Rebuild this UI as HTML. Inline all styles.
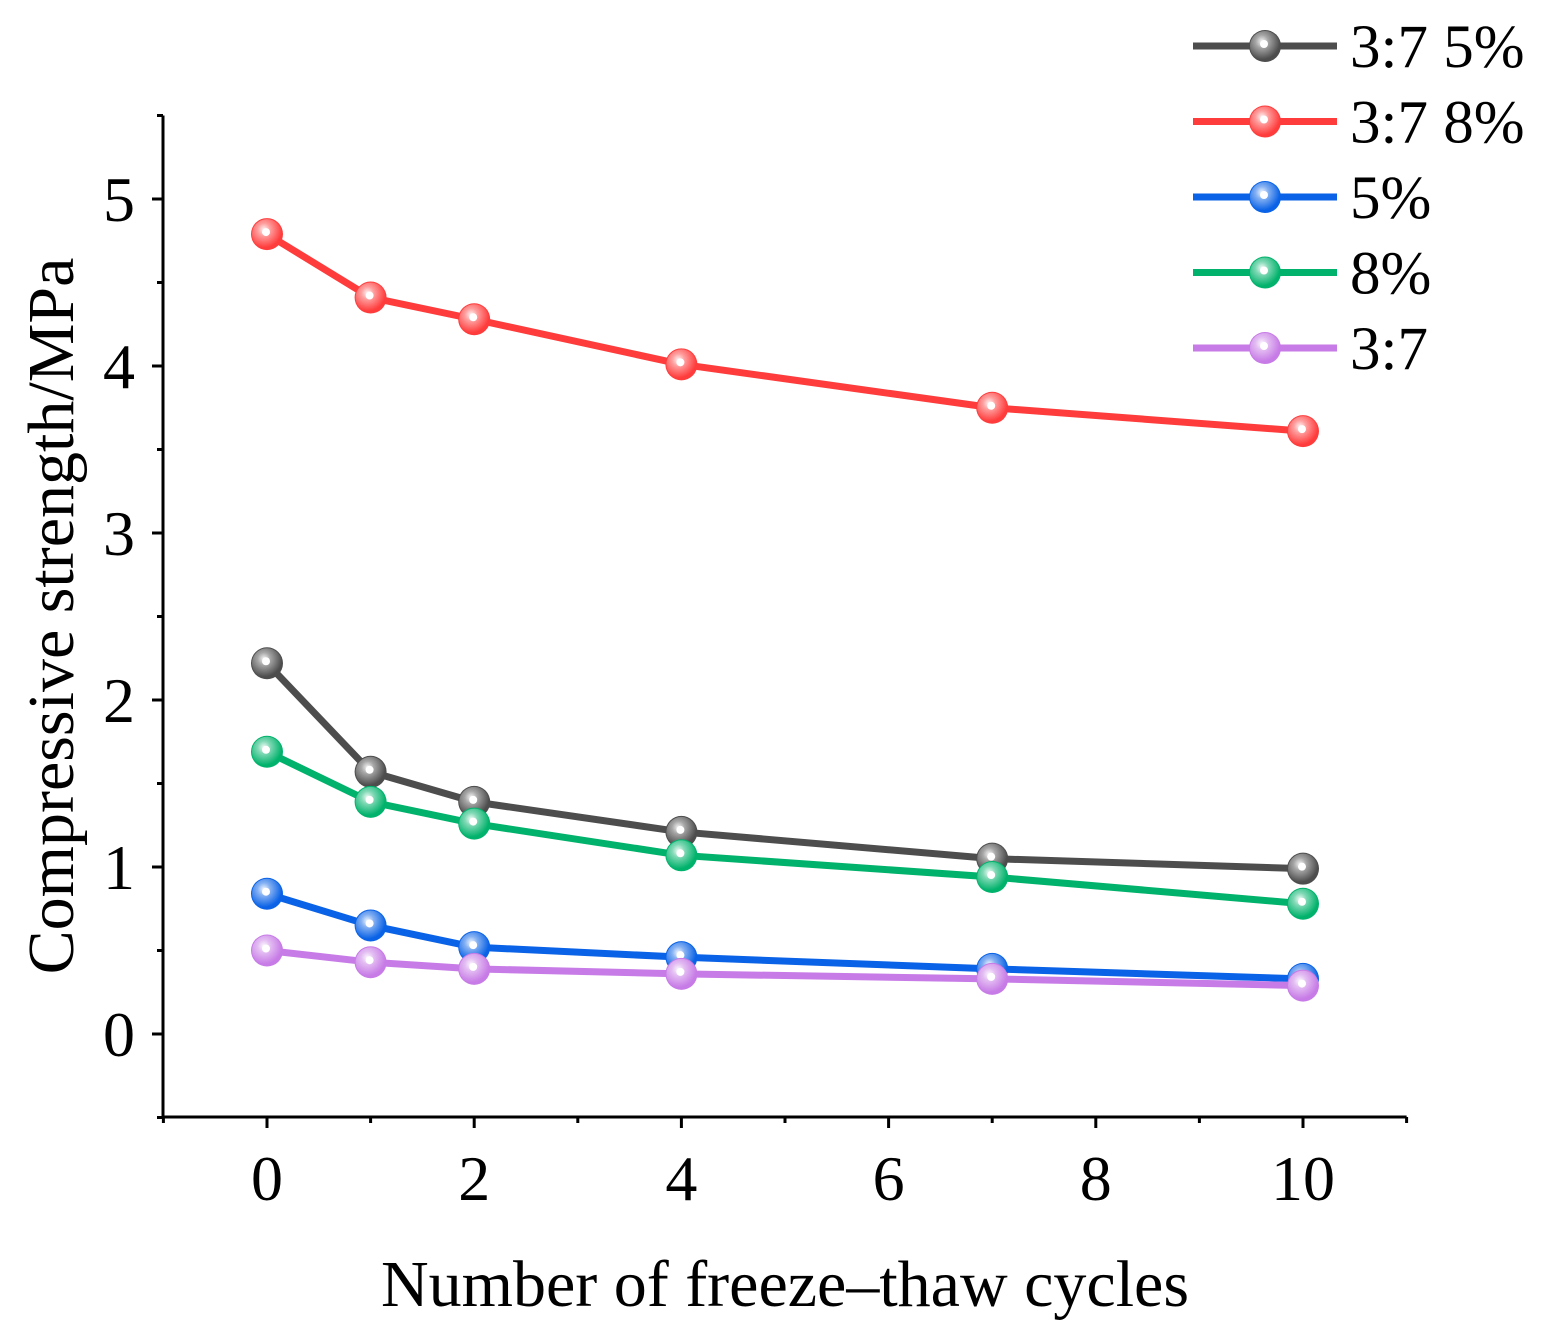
<!DOCTYPE html>
<html><head><meta charset="utf-8"><style>
html,body{margin:0;padding:0;background:#fff}
svg{display:block;font-family:"Liberation Serif",serif}
</style></head><body>
<svg id="chart" width="1549" height="1342" viewBox="0 0 1549 1342">
<defs>
<radialGradient id="shine" cx="0.4" cy="0.35" r="0.6">
<stop offset="0" stop-color="#fff" stop-opacity="0.95"/><stop offset="0.35" stop-color="#fff" stop-opacity="0.5"/><stop offset="1" stop-color="#fff" stop-opacity="0"/>
</radialGradient>
</defs>
<g id="axes"></g>
<g id="series"></g>
<g id="legend"></g>
<text x="785" y="1306" font-size="66" text-anchor="middle">Number of freeze–thaw cycles</text>
<text transform="translate(73,616) rotate(-90)" font-size="66" text-anchor="middle">Compressive strength/MPa</text>
</svg>
<script>
const xCats = [0, 1, 2, 4, 7, 10];
const s1 = [2.22, 1.57, 1.39, 1.21, 1.05, 0.99];
const s2 = [4.79, 4.41, 4.28, 4.01, 3.75, 3.61];
const s3 = [0.84, 0.65, 0.52, 0.46, 0.39, 0.33];
const s4 = [1.69, 1.39, 1.26, 1.07, 0.94, 0.78];
const s5 = [0.50, 0.43, 0.39, 0.36, 0.33, 0.29];
const seriesNames = ["3:7 5%", "3:7 8%", "5%", "8%", "3:7"];
const xTicks = [0, 2, 4, 6, 8, 10];
const yTicks = [0, 1, 2, 3, 4, 5];

const NS = "http://www.w3.org/2000/svg";
const xs = v => 267 + (v - 0) * 103.6;
const ys = v => 1034 - v * 167;
function mk(tag, attrs, parent){const e=document.createElementNS(NS,tag);for(const k in attrs)e.setAttribute(k,attrs[k]);parent.appendChild(e);return e;}
const axes=document.getElementById('axes');
let yl=mk('line',{x1:163,y1:ys(5.5),x2:163,y2:ys(-0.5),stroke:'#000','stroke-width':3},axes);


for(let v=-0.5;v<=5.5;v+=0.5){
  const major=Math.abs(v-Math.round(v))<1e-6;
  const t=mk('line',{x1:163,x2:major?152:157,y1:ys(v),y2:ys(v),stroke:'#000','stroke-width':3},axes);
  
  
}
yTicks.forEach(v=>{const t=mk('text',{x:135,y:ys(v)+22,'font-size':64,'text-anchor':'end'},axes);t.textContent=v;
  
  });
let xl=mk('line',{x1:xs(-1),y1:1117,x2:xs(11),y2:1117,stroke:'#000','stroke-width':3},axes);


for(let v=-1;v<=11;v++){
  const major=v%2===0;
  const t=mk('line',{x1:xs(v),x2:xs(v),y1:1117,y2:major?1128:1123,stroke:'#000','stroke-width':3},axes);
  
  
}
xTicks.forEach(v=>{const t=mk('text',{x:xs(v),y:1200,'font-size':64,'text-anchor':'middle'},axes);t.textContent=v;
  
  });
const data=[s1,s2,s3,s4,s5];
const colors=['#4d4d4d','#ff3c3c','#0a62e6','#00b26b','#c77be6'];
const sg=document.getElementById('series');
function marker(g,x,y,c){
  const m=mk('circle',{cx:x,cy:y,r:16,fill:c},g);
  
  
  mk('circle',{cx:x,cy:y,r:15,fill:'url(#shine)'},g);
  mk('circle',{cx:x-1,cy:y-2,r:4,fill:'#fff'},g);
}
data.forEach((arr,i)=>{
  const g=mk('g',{},sg);
  
  
  const p=mk('polyline',{points:arr.map((v,j)=>xs(xCats[j])+','+ys(v)).join(' '),fill:'none',stroke:colors[i],'stroke-width':7,'stroke-linejoin':'round'},g);
  
  
  arr.forEach((v,j)=>marker(g,xs(xCats[j]),ys(v),colors[i]));
});
const lg=document.getElementById('legend');
seriesNames.forEach((n,i)=>{
  const y=46+i*75.5;
  const g=mk('g',{},lg);
  
  
  mk('line',{x1:1193,x2:1337,y1:y,y2:y,stroke:colors[i],'stroke-width':7},g);
  marker(g,1265,y,colors[i]);
  const t=mk('text',{x:1350,y:y+21,'font-size':61},g);t.textContent=n;
});
</script>
</body></html>
